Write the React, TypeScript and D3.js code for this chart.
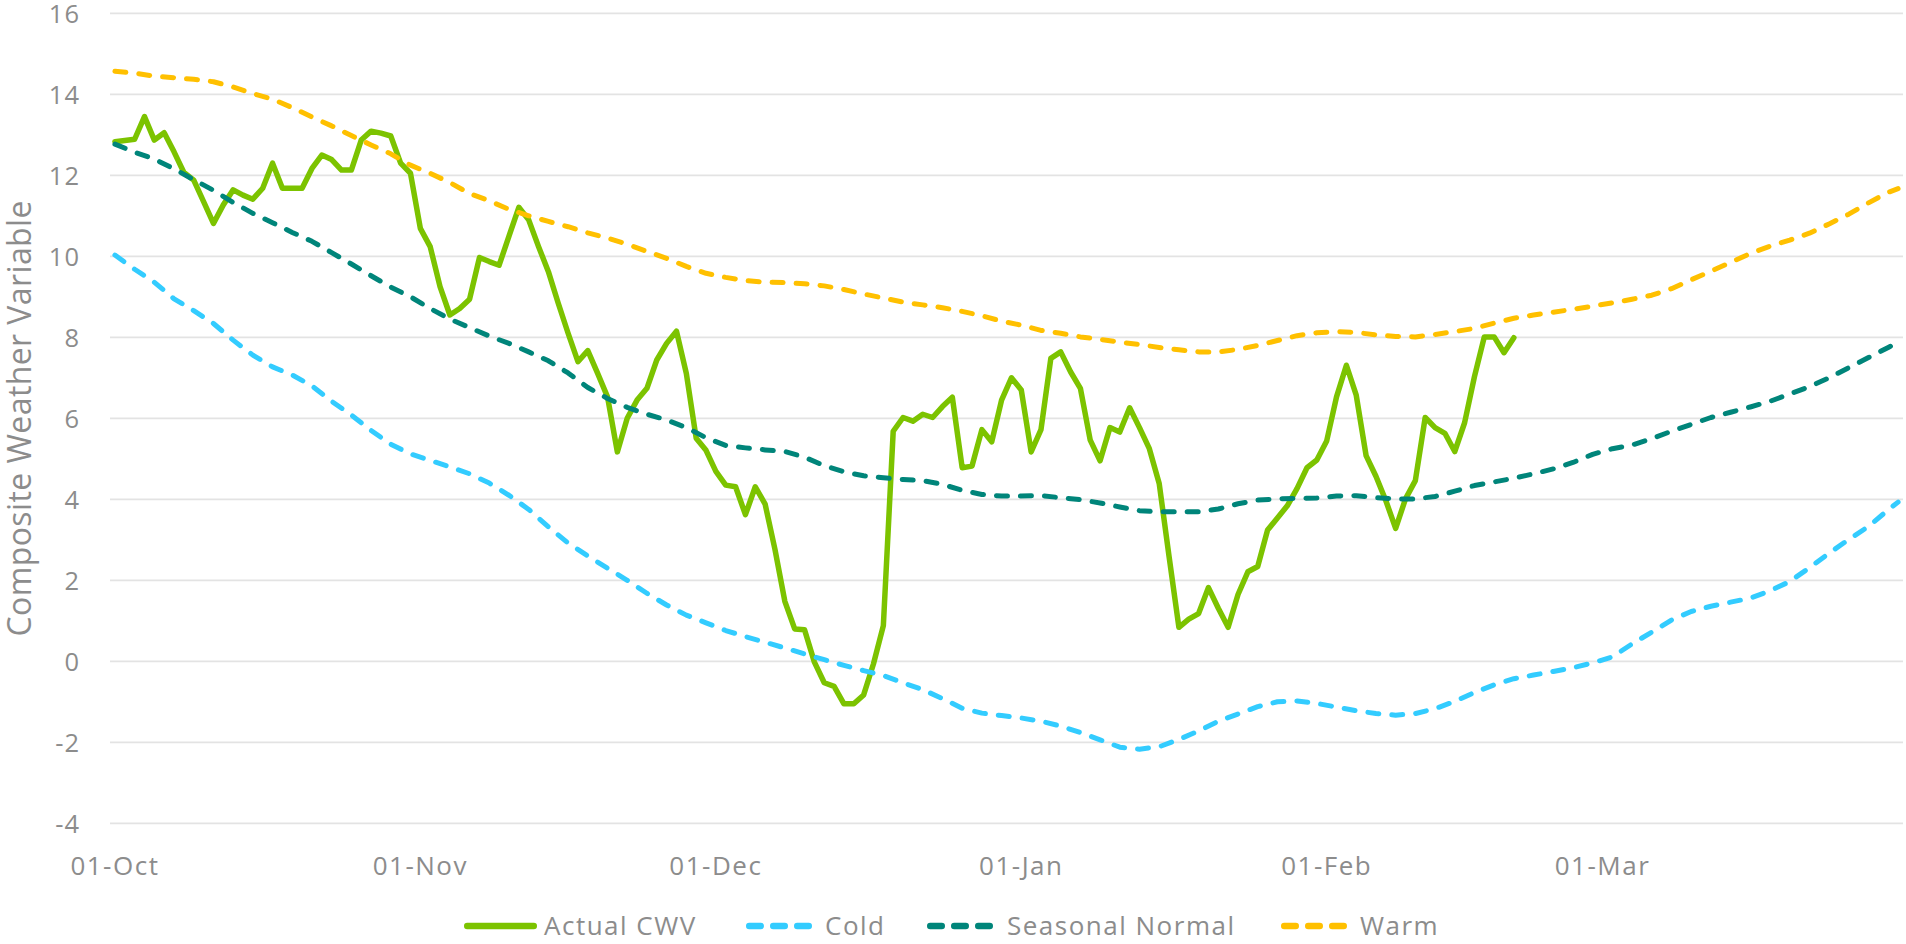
import * as React from 'react';
import * as d3 from 'd3';

// season runs 01-Oct to 31-Mar, one value per day
const seasonStart = new Date(Date.UTC(2022, 9, 1));
const seasonEnd = new Date(Date.UTC(2023, 2, 31));

// actual CWV, daily from 01-Oct (ends 20-Feb)
const actualCwv = [
    12.83, 12.86, 12.89, 13.45, 12.87, 13.05, 12.58, 12.07, 11.88, 11.35,
    10.81, 11.27, 11.64, 11.51, 11.41, 11.68, 12.30, 11.68, 11.68, 11.68,
    12.17, 12.50, 12.39, 12.13, 12.13, 12.87, 13.09, 13.04, 12.97, 12.30,
    12.05, 10.69, 10.24, 9.25, 8.55, 8.71, 8.94, 9.97, 9.87, 9.78,
    10.50, 11.21, 10.90, 10.24, 9.62, 8.84, 8.10, 7.40, 7.67, 7.11,
    6.53, 5.17, 6.00, 6.45, 6.74, 7.44, 7.85, 8.15, 7.11, 5.51,
    5.21, 4.69, 4.35, 4.31, 3.62, 4.31, 3.88, 2.76, 1.48, 0.80,
    0.78, -0.02, -0.53, -0.62, -1.05, -1.05, -0.83, -0.06, 0.88, 5.68,
    6.02, 5.93, 6.10, 6.02, 6.29, 6.52, 4.78, 4.82, 5.72, 5.42,
    6.45, 7.00, 6.70, 5.17, 5.72, 7.48, 7.64, 7.15, 6.74, 5.46,
    4.95, 5.77, 5.66, 6.26, 5.77, 5.25, 4.39, 2.59, 0.84, 1.04,
    1.18, 1.82, 1.31, 0.84, 1.65, 2.21, 2.34, 3.24, 3.54, 3.84,
    4.27, 4.78, 4.97, 5.44, 6.53, 7.31, 6.57, 5.08, 4.57, 3.97,
    3.28, 4.01, 4.46, 6.02, 5.77, 5.63, 5.18, 5.89, 7.03, 8.01,
    8.01, 7.62, 7.99
];

// day offsets (from 01-Oct) for the three reference curves
const curveDays = [
    0, 2, 4, 6, 8, 10, 12, 14, 16, 18, 20, 22, 24, 26, 28, 30, 32, 34, 36, 38,
    40, 42, 44, 46, 48, 50, 52, 54, 56, 58, 60, 62, 64, 66, 68, 70, 72, 74, 76, 78,
    80, 82, 84, 86, 88, 90, 92, 94, 96, 98, 100, 102, 104, 106, 108, 110, 112, 114, 116, 118,
    120, 122, 124, 126, 128, 130, 132, 134, 136, 138, 140, 142, 144, 146, 148, 150, 152, 154, 156, 158,
    160, 162, 164, 166, 168, 170, 172, 174, 176, 178, 180, 181
];

const coldCwv = [
    10.03, 9.68, 9.36, 8.95, 8.66, 8.34, 7.93, 7.56, 7.27, 7.07,
    6.80, 6.42, 6.08, 5.70, 5.36, 5.12, 4.96, 4.80, 4.63, 4.40,
    4.10, 3.75, 3.32, 2.92, 2.60, 2.30, 2.00, 1.68, 1.39, 1.14,
    0.95, 0.76, 0.61, 0.47, 0.33, 0.18, 0.04, -0.10, -0.23, -0.35,
    -0.53, -0.70, -0.92, -1.16, -1.28, -1.34, -1.40, -1.48, -1.60, -1.76,
    -1.94, -2.12, -2.17, -2.11, -1.93, -1.72, -1.48, -1.30, -1.12, -1.00,
    -0.98, -1.04, -1.13, -1.22, -1.29, -1.33, -1.29, -1.17, -0.99, -0.77,
    -0.58, -0.43, -0.34, -0.25, -0.16, -0.04, 0.11, 0.43, 0.72, 1.02,
    1.23, 1.36, 1.46, 1.56, 1.74, 1.97, 2.31, 2.67, 3.01, 3.33,
    3.74, 3.93
];

const seasonalNormal = [
    12.77, 12.57, 12.40, 12.16, 11.89, 11.63, 11.33, 11.06, 10.83, 10.59,
    10.37, 10.09, 9.81, 9.52, 9.24, 9.00, 8.71, 8.45, 8.24, 8.03,
    7.85, 7.64, 7.42, 7.12, 6.76, 6.49, 6.27, 6.10, 5.96, 5.77,
    5.52, 5.33, 5.27, 5.22, 5.18, 5.04, 4.83, 4.68, 4.58, 4.53,
    4.49, 4.46, 4.37, 4.22, 4.12, 4.08, 4.08, 4.09, 4.04, 3.99,
    3.91, 3.81, 3.72, 3.69, 3.69, 3.69, 3.76, 3.89, 3.98, 4.01,
    4.02, 4.03, 4.08, 4.09, 4.04, 4.01, 4.01, 4.07, 4.20, 4.34,
    4.43, 4.52, 4.63, 4.75, 4.91, 5.11, 5.25, 5.34, 5.50, 5.68,
    5.85, 6.02, 6.15, 6.28, 6.42, 6.60, 6.78, 7.00, 7.25, 7.50,
    7.75, 7.87
];

const warmCwv = [
    14.57, 14.52, 14.45, 14.41, 14.37, 14.31, 14.18, 14.02, 13.88, 13.67,
    13.44, 13.22, 12.98, 12.75, 12.53, 12.25, 12.05, 11.82, 11.55, 11.37,
    11.16, 11.00, 10.86, 10.73, 10.58, 10.45, 10.30, 10.12, 9.95, 9.75,
    9.58, 9.48, 9.40, 9.36, 9.35, 9.32, 9.27, 9.18, 9.07, 8.97,
    8.87, 8.80, 8.73, 8.64, 8.53, 8.40, 8.30, 8.17, 8.10, 8.01,
    7.95, 7.88, 7.82, 7.75, 7.69, 7.64, 7.64, 7.70, 7.80, 7.92,
    8.04, 8.11, 8.14, 8.12, 8.06, 8.02, 8.01, 8.07, 8.14, 8.22,
    8.35, 8.47, 8.55, 8.62, 8.69, 8.77, 8.85, 8.94, 9.04, 9.20,
    9.42, 9.63, 9.85, 10.07, 10.25, 10.40, 10.57, 10.80, 11.04, 11.32,
    11.58, 11.67
];

const xTickLabels = ['01-Oct', '01-Nov', '01-Dec', '01-Jan', '01-Feb', '01-Mar'];
const yTickValues = [-4, -2, 0, 2, 4, 6, 8, 10, 12, 14, 16];
const seriesNames = ['Actual CWV', 'Cold', 'Seasonal Normal', 'Warm'];

const W = 1906;
const H = 944;
const plot = { left: 110, right: 1903, top: 13.3, bottom: 823.3 };
const textColor = '#8c8c8c';
const font = "'Open Sans', 'Noto Sans', sans-serif";

// style per series, in draw order
const seriesStyle = [
    { color: '#7cc300', width: 5.5, dash: null },
    { color: '#33ccff', width: 5, dash: '11 13' },
    { color: '#00857a', width: 5, dash: '11 13' },
    { color: '#ffc000', width: 5, dash: '11 13' }
];
// legend symbol / label x positions
const legendLayout = [
    { sx: 464, tx: 544 },
    { sx: 746, tx: 825 },
    { sx: 927, tx: 1007 },
    { sx: 1281, tx: 1360 }
];

export default function App() {

    let xScale = d3.scaleUtc()
        .domain([d3.utcHour.offset(seasonStart, -12), d3.utcHour.offset(seasonEnd, 12)])
        .range([plot.left, plot.right]);

    let yScale = d3.scaleLinear()
        .domain([-4, 16])
        .range([plot.bottom, plot.top]);

    let day = (d: number) => d3.utcDay.offset(seasonStart, d);

    let lineGen = d3.line<[Date, number]>()
        .x((p) => xScale(p[0]))
        .y((p) => yScale(p[1]));

    let seriesPoints: [Date, number][][] = [
        actualCwv.map((v, i) => [day(i), v] as [Date, number]),
        coldCwv.map((v, i) => [day(curveDays[i]), v] as [Date, number]),
        seasonalNormal.map((v, i) => [day(curveDays[i]), v] as [Date, number]),
        warmCwv.map((v, i) => [day(curveDays[i]), v] as [Date, number])
    ];

    let monthStarts = d3.utcMonth.range(seasonStart, seasonEnd);
    let legendY = 926;

    return (
        <svg width={W} height={H}
            style={{ position: 'absolute', left: 0, top: 0, background: '#fff' }}
            fontFamily={font}>

            <g className="grid">
                {yTickValues.map((t) => (
                    <line key={t} x1={plot.left} x2={plot.right}
                        y1={yScale(t)} y2={yScale(t)}
                        stroke="#e3e3e3" strokeWidth={1.8} />
                ))}
            </g>

            <g className="axis axis--y" fill={textColor} fontSize={25.5} letterSpacing={1}>
                {yTickValues.map((t) => (
                    <text key={t} x={80} y={yScale(t) + 10} textAnchor="end">{t}</text>
                ))}
            </g>

            <text transform={'translate(31,' + ((plot.top + plot.bottom) / 2) + ') rotate(-90)'}
                textAnchor="middle" fill={textColor} fontSize={32} letterSpacing={0.4}>
                Composite Weather Variable
            </text>

            <g className="axis axis--x" fill={textColor} fontSize={26} letterSpacing={1.5}>
                {monthStarts.map((m, i) => (
                    <text key={i} x={xScale(m)} y={875} textAnchor="middle">{xTickLabels[i]}</text>
                ))}
            </g>

            <g className="series" fill="none" strokeLinejoin="round">
                {seriesPoints.map((pts, i) => (
                    <path key={seriesNames[i]} d={lineGen(pts) || ''}
                        stroke={seriesStyle[i].color}
                        strokeWidth={seriesStyle[i].width}
                        strokeDasharray={seriesStyle[i].dash || undefined}
                        strokeLinecap="round" />
                ))}
            </g>

            <g className="legend" fontSize={26} letterSpacing={1.5} fill={textColor}>
                {seriesNames.map((name, i) => {
                    let lay = legendLayout[i];
                    let st = seriesStyle[i];
                    return (
                        <g key={name}>
                            <line x1={lay.sx + 3.2} x2={lay.sx + (st.dash ? 62.8 : 69.8)}
                                y1={legendY} y2={legendY}
                                stroke={st.color} strokeWidth={6.4} strokeLinecap="round"
                                strokeDasharray={st.dash ? '11.6 12.4' : undefined} />
                            <text x={lay.tx} y={935}>{name}</text>
                        </g>
                    );
                })}
            </g>
        </svg>
    );
}
